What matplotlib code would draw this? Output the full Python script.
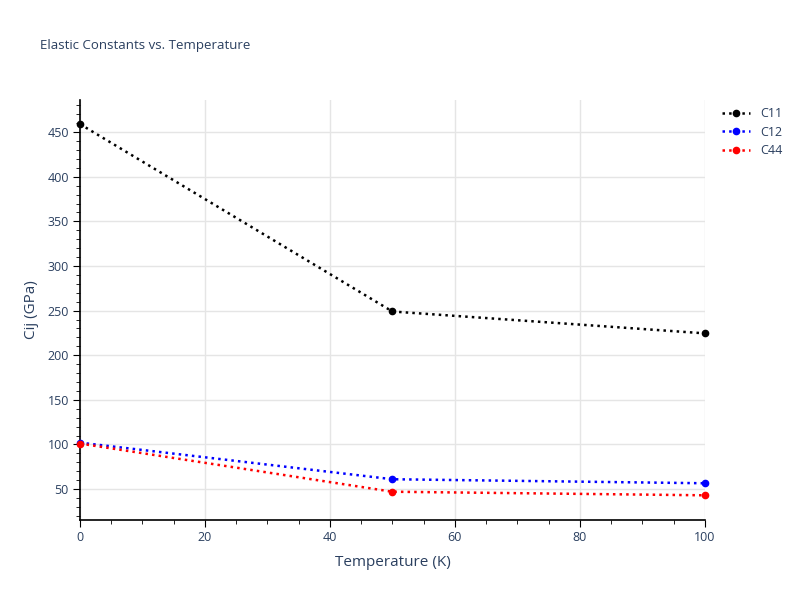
import matplotlib.pyplot as plt
from matplotlib.ticker import MultipleLocator

# data
temps = [0, 50, 100]
c11 = [459, 249, 224.5]
c12 = [102, 61, 56.5]
c44 = [101, 47, 43]

txt = '#2a3f5f'
plt.rcParams['font.family'] = ['Open Sans', 'DejaVu Sans']

fig = plt.figure(figsize=(8, 6), dpi=100)
ax = fig.add_axes([0.1, 0.1333, 0.781, 0.7])

ax.plot(temps, c11, ':', color='black', lw=1.8, marker='o', ms=4.5, label='C11', clip_on=False, zorder=3)
ax.plot(temps, c12, ':', color='blue', lw=1.8, marker='o', ms=4.5, label='C12', clip_on=False, zorder=3)
ax.plot(temps, c44, ':', color='red', lw=1.8, marker='o', ms=4.5, label='C44', clip_on=False, zorder=3)

ax.set_xlim(0, 100)
ax.set_ylim(15.3, 486)
ax.xaxis.set_major_locator(MultipleLocator(20))
ax.xaxis.set_minor_locator(MultipleLocator(5))
ax.yaxis.set_minor_locator(MultipleLocator(10))
ax.set_yticks([50, 100, 150, 200, 250, 300, 350, 400, 450])

ax.grid(True, which='major', color='#e5e5e5', lw=1, zorder=0)
ax.set_axisbelow(True)
for s in ['top', 'right']:
    ax.spines[s].set_visible(False)
for s in ['left', 'bottom']:
    ax.spines[s].set_color('black')
    ax.spines[s].set_linewidth(1.2)

ax.tick_params(which='major', length=5, color='black', labelsize=9, labelcolor=txt, pad=3)
ax.tick_params(which='minor', length=3, color='black')

ax.set_xlabel('Temperature (K)', fontsize=11, color=txt, labelpad=8)
ax.set_ylabel('Cij (GPa)', fontsize=11, color=txt, labelpad=6)
fig.text(0.05, 0.925, 'Elastic Constants vs. Temperature', fontsize=9.5, color=txt, va='center')

leg = ax.legend(loc='upper left', bbox_to_anchor=(1.01, 1.01), frameon=False,
                fontsize=9, handlelength=2.2, labelspacing=0.45)
for t in leg.get_texts():
    t.set_color(txt)

fig.savefig('out.png', dpi=100)
